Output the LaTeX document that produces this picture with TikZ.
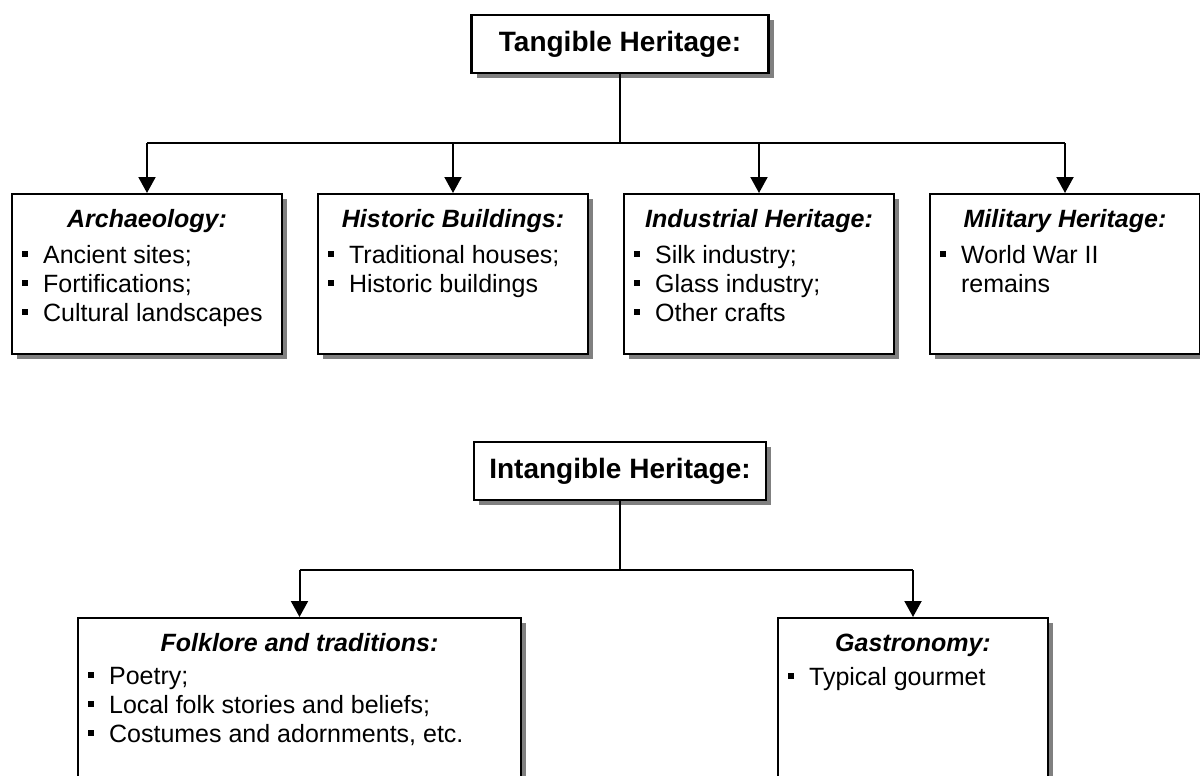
\documentclass[tikz,border=0pt]{standalone}
\usepackage{fontspec}
\setmainfont{Liberation Sans}
\usetikzlibrary{arrows.meta,shadows}
\definecolor{shadowgray}{RGB}{128,128,128}

\newcommand{\bul}{\makebox[21pt][l]{\rule[6pt]{6pt}{6pt}}}
\newcommand{\nobul}{\makebox[21pt][l]{}}

\tikzset{
	wire/.style={line width=2pt, black},
	feed/.style={wire, -{Triangle[length=16pt,width=17pt]}},
	boxed/.style={draw, line width=2.2pt, fill=white,
		drop shadow={shadow xshift=5pt, shadow yshift=-5pt, fill=shadowgray, opacity=1}},
	titlebox/.style={boxed, minimum height=58pt, font=\fontsize{28}{32}\selectfont\bfseries},
	catbox/.style={boxed, anchor=north},
	cathead/.style={anchor=base, inner sep=0pt, font=\fontsize{25}{29}\selectfont\bfseries\itshape},
	catitems/.style={anchor=north west, align=left, inner sep=0pt, font=\fontsize{25}{29}\selectfont}
}

\begin{document}
\begin{tikzpicture}[x=1pt, y=-1pt]
		\useasboundingbox (0,0) rectangle (1200,776);
		
		% tangible part
		\node[titlebox, minimum width=297pt] (tangible) at (620,44) {Tangible Heritage:};
		\coordinate (tbus) at (620,143);
		
		\foreach \name/\xpos/\head/\items in {
			arch/147/Archaeology:/{\bul Ancient sites;\\ \bul Fortifications;\\ \bul Cultural landscapes},
			hist/453/Historic Buildings:/{\bul Traditional houses;\\ \bul Historic buildings},
			ind/759/Industrial Heritage:/{\bul Silk industry;\\ \bul Glass industry;\\ \bul Other crafts},
			mil/1065/Military Heritage:/{\bul World War II\\ \nobul remains}} {
			\node[catbox, minimum width=270pt, minimum height=160pt] (\name) at (\xpos,193) {};
			\node[cathead] (\name-head) at ([yshift=-34pt]\name.north) {\head};
			\node[catitems] (\name-items) at ([xshift=11pt,yshift=-52pt]\name.north west) {\items};
			\draw[feed] (tbus -| \name.north) -- (\name.north);
		}
		\draw[wire] (tangible.south) -- (tbus);
		\draw[wire] (tbus -| arch.north) -- (tbus -| mil.north);
		
		% intangible part
		\node[titlebox, minimum width=292pt] (intangible) at (620,471) {Intangible Heritage:};
		\coordinate (ibus) at (620,570);
		
		\foreach \name/\xpos/\boxwd/\head/\items in {
			folk/299.5/443/Folklore and traditions:/{\bul Poetry;\\ \bul Local folk stories and beliefs;\\ \bul Costumes and adornments, etc.},
			gastro/913/270/Gastronomy:/{\bul Typical gourmet}} {
			\node[catbox, minimum width=\boxwd pt, minimum height=200pt] (\name) at (\xpos,617) {};
			\node[cathead] (\name-head) at ([yshift=-34pt]\name.north) {\head};
			\node[catitems] (\name-items) at ([xshift=11pt,yshift=-50pt]\name.north west) {\items};
			\draw[feed] (ibus -| \name.north) -- (\name.north);
		}
		\draw[wire] (intangible.south) -- (ibus);
		\draw[wire] (ibus -| folk.north) -- (ibus -| gastro.north);
	\end{tikzpicture}
\end{document}
